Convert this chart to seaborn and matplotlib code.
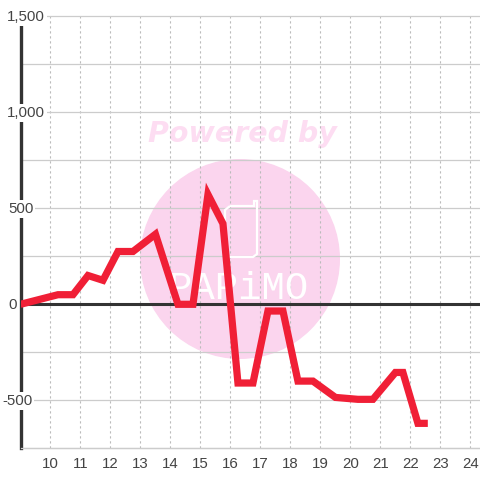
import matplotlib
matplotlib.use("Agg")
import matplotlib.pyplot as plt
import pandas as pd
import seaborn as sns
from matplotlib.patches import Circle, PathPatch
from matplotlib.path import Path
from matplotlib.transforms import Affine2D, blended_transform_factory

hours = [9, 10.25, 10.75, 11.25, 11.75, 12.25, 12.75, 13.5, 14.25, 14.75, 15.25, 15.75,
         16.25, 16.75, 17.25, 17.75, 18.25, 18.75, 19.5, 20.25, 20.75, 21.5, 21.75, 22.25, 22.58]
values = [0, 50, 50, 150, 125, 275, 275, 365, 0, 0, 572, 420,
          -410, -410, -35, -35, -400, -400, -485, -495, -495, -355, -355, -620, -620]
x_ticks = list(range(10, 25))
y_grid = [-750, -500, -250, 0, 250, 500, 750, 1000, 1250, 1500]
y_labels = {1500: "1,500", 1000: "1,000", 500: "500", 0: "0", -500: "-500"}

sns.set_style("white")
plt.rcParams["font.family"] = ["Liberation Sans", "DejaVu Sans"]

fig = plt.figure(figsize=(4.8, 4.8), dpi=100)
ax = fig.add_axes([20.5 / 480, 1 - 448.3 / 480, (480 - 20.5) / 480, (448.3 - 16.3) / 480])

# pixel coordinates of the picture, y going down (for the watermark)
px = Affine2D().scale(1 / 480, -1 / 480).translate(0, 1) + fig.transFigure

df = pd.DataFrame({"hour": hours, "value": values})
ax.axhline(0, color="#333333", lw=2.2, zorder=2.4)
sns.lineplot(data=df, x="hour", y="value", sort=False, estimator=None, errorbar=None,
             color="#F01F36", lw=5.2, solid_joinstyle="miter", solid_capstyle="butt", zorder=3, ax=ax)

ax.set_xlim(9, 24.32)
ax.set_ylim(-750, 1500)
ax.set_xlabel("")
ax.set_ylabel("")
ax.set_xticks(x_ticks)
ax.set_yticks(y_grid)
ax.set_yticklabels([])
ax.tick_params(axis="both", length=0)
ax.tick_params(axis="x", labelsize=10.8, labelcolor="#444444", pad=6)

ax.set_axisbelow(True)
ax.grid(axis="y", color="#CCCCCC", lw=0.9, ls="-", clip_on=False)
ax.grid(axis="x", color="#BBBBBB", lw=0.8, ls=(0, (2, 2.5)))

for name in ["top", "right"]:
    ax.spines[name].set_visible(False)
ax.spines["left"].set_color("#333333")
ax.spines["left"].set_linewidth(2.4)
ax.spines["bottom"].set_color("#CCCCCC")
ax.spines["bottom"].set_linewidth(0.9)

# y labels sit on the axis, with a white box that breaks it
label_trans = blended_transform_factory(fig.transFigure, ax.transData) + Affine2D().translate(0, -1)
for val, txt in y_labels.items():
    left = 2 if val < 0 else (7 if val >= 1000 else 8)
    box = None if val == 0 else dict(facecolor="white", edgecolor="none", pad=1.5)
    ax.text(left / 480, val, txt, transform=label_trans, ha="left", va="center", fontsize=10.8,
            color="#444444", bbox=box, zorder=2.6, clip_on=False)

# watermark
ax.add_patch(Circle((240, 259), 100, transform=px, facecolor="#FBD5EE", edgecolor="none", zorder=0.3))
ax.text(242, 134, "Powered by", transform=px, ha="center", va="center", fontsize=20.5,
        family="DejaVu Sans", weight="bold", style="italic", color="#FDDDF2", zorder=0.3)
logo = Path([(230, 206), (254, 206), (254, 201), (257, 201), (257, 254), (253, 257), (229, 257), (225, 254), (225, 210), (230, 206)])
ax.add_patch(PathPatch(logo, transform=px, facecolor="none", edgecolor="white", lw=1.6, zorder=1))
ax.text(239, 289, "PAPiMO", transform=px, ha="center", va="center", fontsize=28,
        family="Liberation Mono", color="white", zorder=1)

fig.savefig("out.png", dpi=100)
